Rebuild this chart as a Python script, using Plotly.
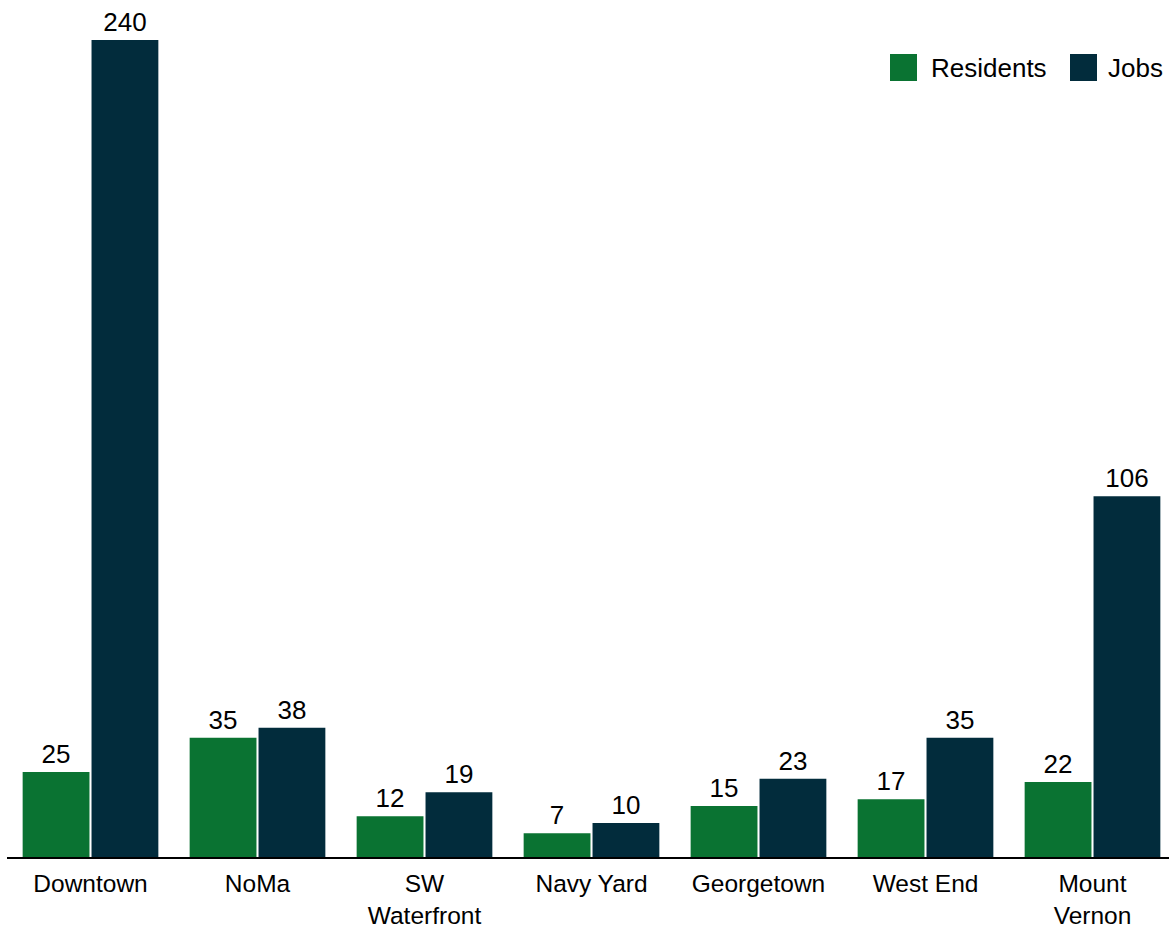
import plotly.graph_objects as go

categories = ["Downtown", "NoMa", "SW<br>Waterfront", "Navy Yard", "Georgetown", "West End", "Mount<br>Vernon"]
residents = [25, 35, 12, 7, 15, 17, 22]
jobs = [240, 38, 19, 10, 23, 35, 106]

GREEN = "#0a7332"
NAVY = "#022c3c"
FONT = "Liberation Sans, Arial, sans-serif"
FS = 26

W, H = 1169, 930
L, R, T, B = 7, 0, 6, 73
PW, PH = W - L - R, H - T - B
CAT_PX = 167  # width of one category slot


def px_x(x):
    return (x - L) / PW


def px_y(y):
    return (H - B - y) / PH


fig = go.Figure()
for name, vals, color in [("Residents", residents, GREEN), ("Jobs", jobs, NAVY)]:
    fig.add_trace(go.Bar(
        x=categories, y=vals, name=name,
        marker=dict(color=color, line=dict(width=0)),
        text=[str(v) for v in vals], textposition="outside",
        textfont=dict(family=FONT, size=FS, color="#000000"),
        cliponaxis=False, showlegend=False,
    ))

# legend drawn as swatches + labels
shapes = []
annotations = []
for label, color, sx, tx in [("Residents", GREEN, 890, 929), ("Jobs", NAVY, 1070, 1106)]:
    shapes.append(dict(type="rect", xref="paper", yref="paper",
                       x0=px_x(sx), x1=px_x(sx + 27), y0=px_y(81), y1=px_y(54),
                       fillcolor=color, line=dict(width=0)))
    annotations.append(dict(text=label, xref="paper", yref="paper",
                            x=px_x(tx), y=px_y(67.5), xanchor="left", yanchor="middle",
                            showarrow=False, font=dict(family=FONT, size=FS, color="#000000")))

fig.update_layout(
    width=W, height=H,
    margin=dict(l=L, r=R, t=T, b=B, autoexpand=False),
    paper_bgcolor="white", plot_bgcolor="white",
    barmode="group", bargap=0.175, bargroupgap=0.03,
    font=dict(family=FONT, size=FS, color="#000000"),
    shapes=shapes, annotations=annotations,
    xaxis=dict(showline=True, linecolor="#000000", linewidth=2, ticks="",
               range=[-0.5, -0.5 + PW / CAT_PX], automargin=False,
               tickfont=dict(family=FONT, size=24.5, color="#000000"),
               ticklabelstandoff=4, showgrid=False),
    yaxis=dict(range=[0, 250], visible=False, showgrid=False, zeroline=False,
               automargin=False),
)

fig.write_html("out.html")
